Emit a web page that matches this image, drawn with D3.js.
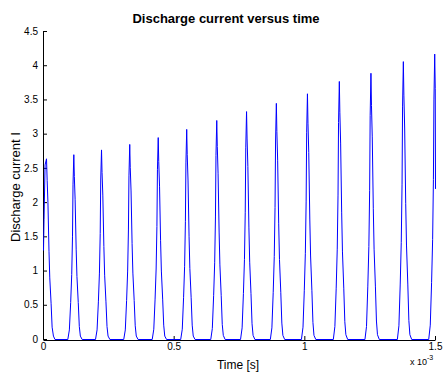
<!DOCTYPE html>
<html>
<head>
<meta charset="utf-8">
<script src="https://cdn.jsdelivr.net/npm/d3@7"></script>
<style>
  html, body { margin: 0; padding: 0; background: #fff; }
  svg { display: block; font-family: "Liberation Sans", Arial, Helvetica, sans-serif; }
</style>
</head>
<body>
<svg id="chart" width="443" height="376"></svg>
<script>
// Discharge current samples: time in units of 1e-3 s, current in A.
// One row per discharge pulse.
const timeMs = [
  [0.000, 0.002, 0.006, 0.0115, 0.014, 0.017, 0.021, 0.024, 0.029, 0.033, 0.038, 0.044],
  [0.093, 0.099, 0.104, 0.108, 0.111, 0.113, 0.116, 0.118, 0.121, 0.125, 0.128, 0.133, 0.137, 0.141, 0.148],
  [0.199, 0.205, 0.210, 0.214, 0.217, 0.219, 0.222, 0.224, 0.227, 0.231, 0.234, 0.239, 0.243, 0.247, 0.254],
  [0.307, 0.313, 0.318, 0.322, 0.325, 0.327, 0.330, 0.332, 0.335, 0.339, 0.342, 0.347, 0.351, 0.355, 0.362],
  [0.416, 0.422, 0.427, 0.431, 0.434, 0.436, 0.439, 0.441, 0.444, 0.448, 0.451, 0.456, 0.460, 0.464, 0.471],
  [0.525, 0.531, 0.536, 0.540, 0.543, 0.545, 0.548, 0.550, 0.553, 0.557, 0.560, 0.565, 0.569, 0.573, 0.580],
  [0.640, 0.646, 0.651, 0.655, 0.658, 0.660, 0.663, 0.665, 0.668, 0.672, 0.675, 0.680, 0.684, 0.688, 0.695],
  [0.754, 0.760, 0.765, 0.769, 0.772, 0.774, 0.777, 0.779, 0.782, 0.786, 0.789, 0.794, 0.798, 0.802, 0.809],
  [0.868, 0.874, 0.879, 0.883, 0.886, 0.888, 0.891, 0.893, 0.896, 0.900, 0.903, 0.908, 0.912, 0.916, 0.923],
  [0.987, 0.993, 0.998, 1.002, 1.005, 1.007, 1.010, 1.012, 1.015, 1.019, 1.022, 1.027, 1.031, 1.035, 1.042],
  [1.109, 1.115, 1.120, 1.124, 1.127, 1.129, 1.132, 1.134, 1.137, 1.141, 1.144, 1.149, 1.153, 1.157, 1.164],
  [1.230, 1.236, 1.241, 1.245, 1.248, 1.250, 1.253, 1.255, 1.258, 1.262, 1.265, 1.270, 1.274, 1.278, 1.285],
  [1.354, 1.360, 1.365, 1.369, 1.372, 1.374, 1.377, 1.379, 1.382, 1.386, 1.389, 1.394, 1.398, 1.402, 1.409],
  [1.474, 1.480, 1.485, 1.489, 1.492, 1.494, 1.497, 1.499, 1.500]
];
const currentA = [
  [1.30, 1.75, 2.55, 2.64, 2.32, 2.00, 1.29, 0.90, 0.53, 0.18, 0.05, 0],
  [0, 0.14, 0.54, 0.95, 1.51, 2.27, 2.70, 2.38, 2.05, 1.32, 0.92, 0.54, 0.19, 0.05, 0],
  [0, 0.14, 0.55, 0.97, 1.55, 2.33, 2.77, 2.44, 2.11, 1.36, 0.94, 0.55, 0.19, 0.05, 0],
  [0, 0.14, 0.57, 1.00, 1.60, 2.39, 2.85, 2.51, 2.17, 1.40, 0.97, 0.57, 0.20, 0.05, 0],
  [0, 0.15, 0.59, 1.03, 1.65, 2.48, 2.95, 2.60, 2.24, 1.45, 1.00, 0.59, 0.21, 0.05, 0],
  [0, 0.15, 0.61, 1.07, 1.72, 2.58, 3.07, 2.70, 2.33, 1.50, 1.04, 0.61, 0.21, 0.05, 0],
  [0, 0.16, 0.64, 1.12, 1.79, 2.69, 3.20, 2.82, 2.43, 1.57, 1.09, 0.64, 0.22, 0.06, 0],
  [0, 0.17, 0.67, 1.17, 1.86, 2.80, 3.33, 2.93, 2.53, 1.63, 1.13, 0.67, 0.23, 0.06, 0],
  [0, 0.17, 0.69, 1.21, 1.93, 2.90, 3.45, 3.04, 2.62, 1.69, 1.17, 0.69, 0.24, 0.06, 0],
  [0, 0.18, 0.72, 1.26, 2.01, 3.02, 3.59, 3.16, 2.73, 1.76, 1.22, 0.72, 0.25, 0.06, 0],
  [0, 0.19, 0.75, 1.32, 2.11, 3.17, 3.77, 3.32, 2.87, 1.85, 1.28, 0.75, 0.26, 0.07, 0],
  [0, 0.19, 0.78, 1.36, 2.18, 3.27, 3.89, 3.42, 2.96, 1.91, 1.32, 0.78, 0.27, 0.07, 0],
  [0, 0.20, 0.81, 1.42, 2.27, 3.41, 4.06, 3.57, 3.09, 1.99, 1.38, 0.81, 0.28, 0.07, 0],
  [0, 0.21, 0.83, 1.46, 2.34, 3.50, 4.17, 3.67, 2.20]
];

const xTicks = [0, 0.5, 1, 1.5];
const xTickLabels = ["0", "0.5", "1", "1.5"];
const yTicks = [0, 0.5, 1, 1.5, 2, 2.5, 3, 3.5, 4, 4.5];
const yTickLabels = ["0", "0.5", "1", "1.5", "2", "2.5", "3", "3.5", "4", "4.5"];

const titleText = "Discharge current versus time";
const xLabelText = "Time [s]";
const yLabelText = "Discharge current I";

// Flatten the pulses into one continuous trace
const samples = [];
timeMs.forEach((row, i) => row.forEach((t, j) => samples.push({ t, i: currentA[i][j] })));

const svg = d3.select("#chart");

const x = d3.scaleLinear().domain([0, 1.5]).range([43, 435]);
const y = d3.scaleLinear().domain([0, 4.5]).range([339, 31]);

// Axes: inward ticks, left and bottom only
const xAxis = d3.axisBottom(x)
  .tickValues(xTicks)
  .tickFormat((d, i) => xTickLabels[i])
  .tickSizeInner(-4)
  .tickSizeOuter(0)
  .tickPadding(3);

const yAxis = d3.axisLeft(y)
  .tickValues(yTicks)
  .tickFormat((d, i) => yTickLabels[i])
  .tickSizeInner(-4)
  .tickSizeOuter(0)
  .tickPadding(5);

const gx = svg.append("g").attr("transform", "translate(0,340)").call(xAxis);
const gy = svg.append("g").attr("transform", "translate(43,0)").call(yAxis);

[gx, gy].forEach(g => {
  g.selectAll("path.domain").attr("stroke", "#000").attr("stroke-width", 1);
  g.selectAll(".tick line").attr("stroke", "#000");
  g.selectAll(".tick text")
    .attr("fill", "#000")
    .style("font-size", "10px")
    .style("font-family", "'Liberation Sans', Arial, sans-serif");
});

// Discharge current trace
const line = d3.line()
  .x(d => x(d.t))
  .y(d => y(d.i));

svg.append("path")
  .datum(samples)
  .attr("transform", "translate(0.5,0.5)")
  .attr("fill", "none")
  .attr("stroke", "#0000ff")
  .attr("stroke-width", 1)
  .attr("d", line);

// Title and axis labels
svg.append("text")
  .attr("x", 226)
  .attr("y", 23)
  .attr("text-anchor", "middle")
  .style("font-size", "13px")
  .style("font-weight", "bold")
  .text(titleText);

svg.append("text")
  .attr("x", 238)
  .attr("y", 369)
  .attr("text-anchor", "middle")
  .style("font-size", "12px")
  .text(xLabelText);

svg.append("text")
  .attr("transform", "translate(20,187) rotate(-90)")
  .attr("text-anchor", "middle")
  .style("font-size", "13px")
  .text(yLabelText);

// Scale factor for the time axis
const expo = svg.append("text")
  .attr("x", 410)
  .attr("y", 365)
  .style("font-size", "9px");
expo.append("tspan").text("x 10");
expo.append("tspan").attr("dy", -5).style("font-size", "7px").text("-3");
</script>
</body>
</html>
